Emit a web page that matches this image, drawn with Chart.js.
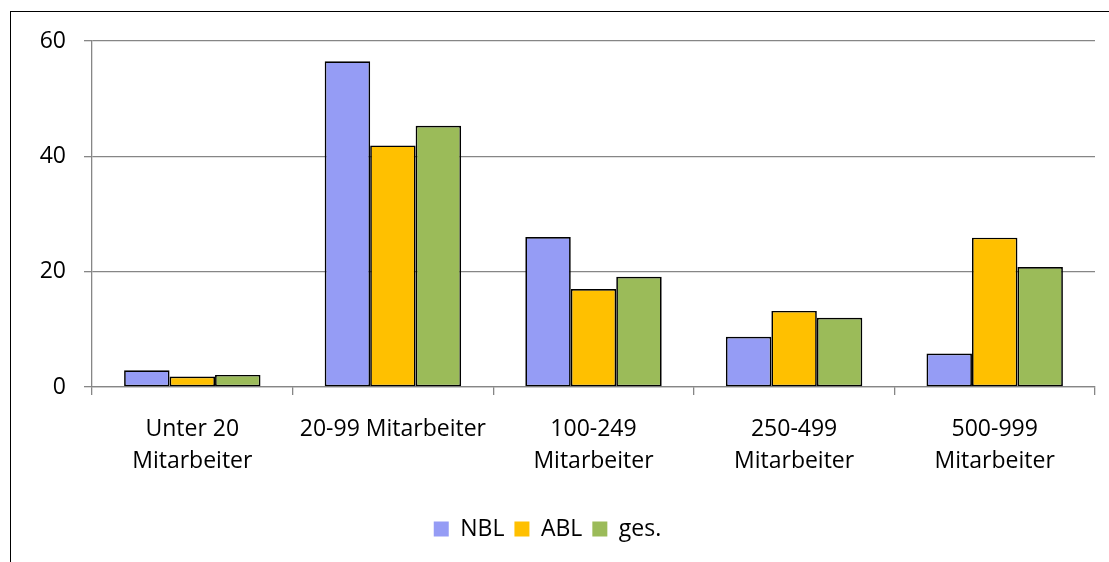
<!DOCTYPE html>
<html>
<head>
<meta charset="utf-8">
<script src="https://cdn.jsdelivr.net/npm/chart.js@4.4.1/dist/chart.umd.min.js"></script>
<style>
  html, body { margin: 0; padding: 0; background: #fff; overflow: hidden; }
  #wrap { position: relative; width: 1109px; height: 562px; }
  #frame {
    position: absolute; left: 10px; top: 11px; width: 2000px; height: 2000px;
    border-left: 1.5px solid #000; border-top: 1.5px solid #000;
  }
  canvas { position: absolute; left: 0; top: 0; }
</style>
</head>
<body>
<div id="wrap">
  <div id="frame"></div>
  <canvas id="chart" width="1109" height="562"></canvas>
</div>
<script>
const categories = [
  ['Unter 20', 'Mitarbeiter'],
  '20-99 Mitarbeiter',
  ['100-249', 'Mitarbeiter'],
  ['250-499', 'Mitarbeiter'],
  ['500-999', 'Mitarbeiter'],
];
const seriesNames = ['NBL', 'ABL', 'ges.'];
const nblValues = [2.9, 56.5, 26.0, 8.7, 5.8];
const ablValues = [1.8, 41.9, 17.0, 13.2, 25.9];
const gesValues = [2.1, 45.3, 19.1, 12.0, 20.8];
const yTicks = [0, 20, 40, 60];

const gridGrey = '#868686';
const fontFamily = '"Open Sans", Lato, sans-serif';
const fontSize = 23;

function makeSet(label, data, color) {
  return {
    label: label,
    data: data,
    backgroundColor: color,
    borderColor: '#000',
    borderWidth: 1.7,
    borderSkipped: false,
    categoryPercentage: 0.68,
    barPercentage: 1.0,
  };
}

const ctx = document.getElementById('chart').getContext('2d');
const chart = new Chart(ctx, {
  type: 'bar',
  data: {
    labels: categories,
    datasets: [
      makeSet(seriesNames[0], nblValues, '#959CF5'),
      makeSet(seriesNames[1], ablValues, '#FFC000'),
      makeSet(seriesNames[2], gesValues, '#9BBB59'),
    ],
  },
  options: {
    responsive: false,
    animation: false,
    layout: {
      padding: { top: 41, right: 14, left: 0, bottom: 11.5 },
    },
    plugins: {
      tooltip: { enabled: false },
      legend: {
        position: 'bottom',
        labels: {
          boxWidth: 15,
          boxHeight: 15,
          padding: 10,
          color: '#000',
          font: { family: fontFamily, size: fontSize },
          generateLabels: (c) =>
            Chart.defaults.plugins.legend.labels.generateLabels(c).map((l) => {
              l.lineWidth = 0;
              l.strokeStyle = 'rgba(0,0,0,0)';
              return l;
            }),
        },
      },
    },
    scales: {
      x: {
        offset: true,
        grid: {
          offset: true,
          drawOnChartArea: false,
          drawTicks: true,
          tickLength: 8,
          color: gridGrey,
          lineWidth: 1.3,
        },
        border: { color: gridGrey, width: 1.3 },
        ticks: {
          color: '#000',
          padding: 18,
          autoSkip: false,
          maxRotation: 0,
          font: { family: fontFamily, size: fontSize, lineHeight: 1.391 },
        },
        afterFit: (scale) => { scale.height = 120.5; },
      },
      y: {
        min: 0,
        max: 60,
        afterBuildTicks: (scale) => { scale.ticks = yTicks.map((v) => ({ value: v })); },
        grid: {
          color: gridGrey,
          lineWidth: 1.3,
          tickLength: 8,
        },
        border: { color: gridGrey, width: 1.3 },
        ticks: {
          color: '#000',
          padding: 18,
          font: { family: fontFamily, size: fontSize },
        },
        afterFit: (scale) => { scale.width = 92; },
      },
    },
  },
});
</script>
</body>
</html>
